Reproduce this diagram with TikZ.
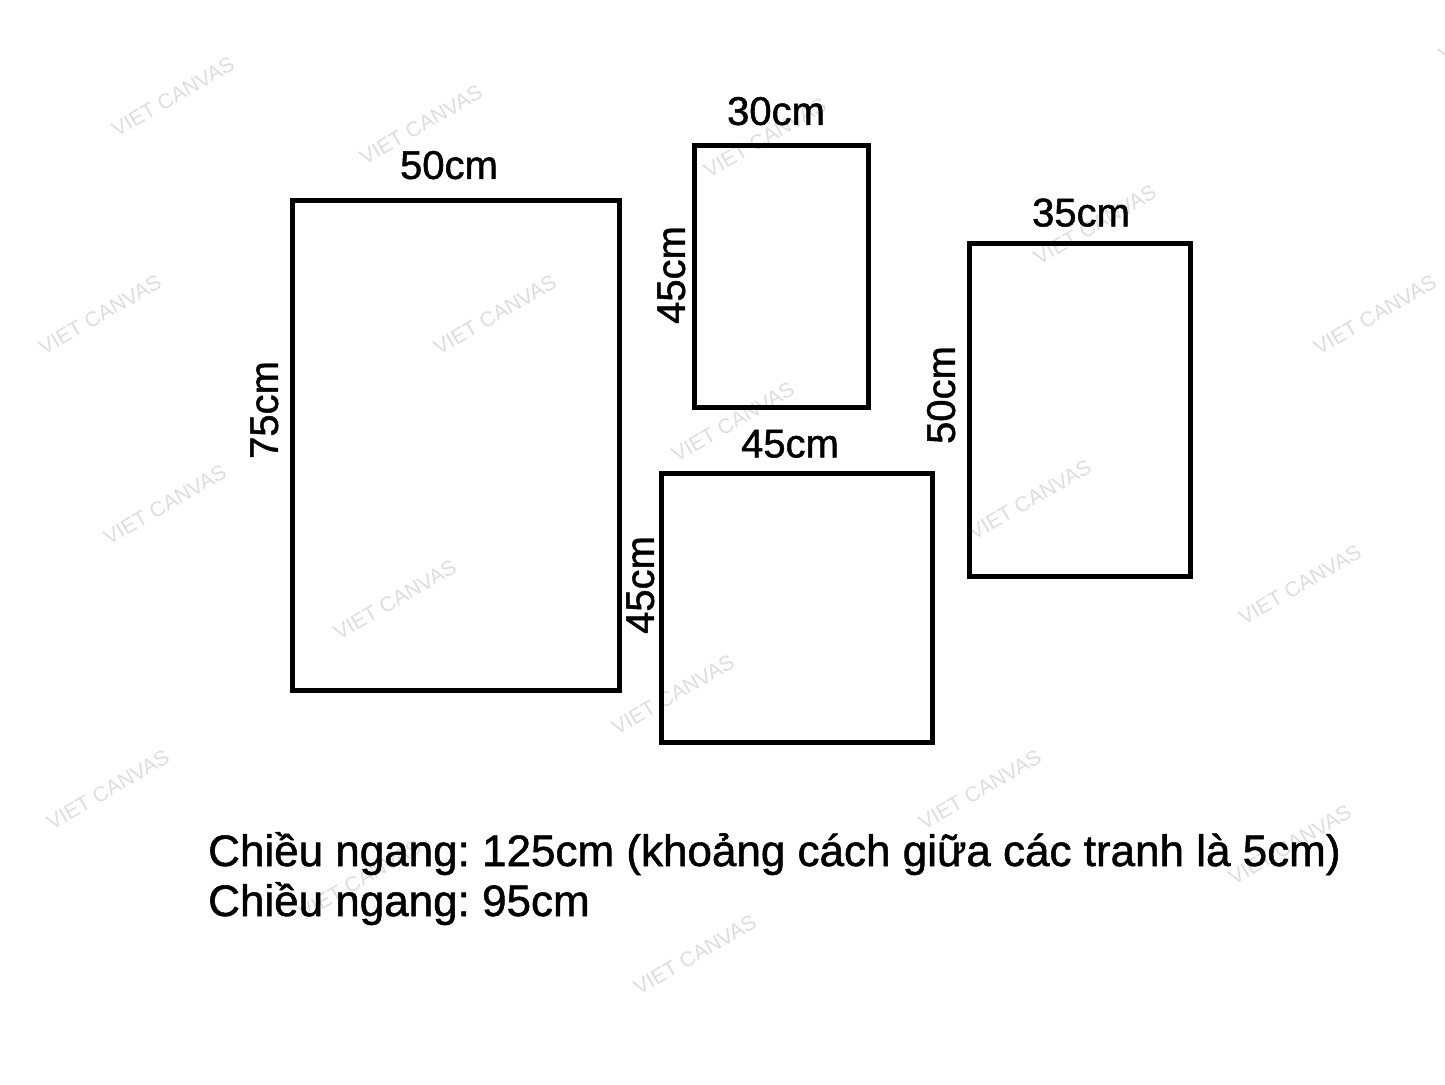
\documentclass[tikz,border=0pt]{standalone}
\usepackage{fontspec}
\setmainfont{Liberation Sans}
\newfontfamily\heavyfont{Liberation Sans}[FakeBold=1.2]
\frenchspacing
\usetikzlibrary{positioning}
\tikzset{
  frame/.style = {draw, line width=5pt, inner sep=0pt},
  size label/.style = {inner sep=0pt, font=\heavyfont\fontsize{40}{48}\selectfont},
  side label/.style = {size label, rotate=90, anchor=south},
  note/.style = {inner sep=0pt, anchor=base west, font=\heavyfont\fontsize{44}{50}\selectfont},
  watermark/.style = {text=black!13, rotate=30, inner sep=0pt,
                      font=\fontsize{21}{24}\selectfont},
}
\begin{document}
\begin{tikzpicture}[x=1pt, y=-1pt]
    %% Fix the page to the size of the reference
    \useasboundingbox [fill=white] (0,0) rectangle (1445,1084);
    \clip (0,0) rectangle (1445,1084);

    %% The watermarks go underneath everything else
    \foreach \wx/\wy [count=\w] in {173/97, 421/125, 765/138, 1095/225, 1500/22,
        100/315, 495/315, 1375/315, 733/422, 1030/500, 165/505, 395/600,
        1300/585, 673/695, 108/790, 980/790, 1290/845, 360/880, 695/955}{%
      \node [watermark] (mark\w) at (\wx,\wy) {VIET CANVAS};
    }

    %% The four frames
    \node [frame, minimum width=327pt, minimum height=490pt] (big) at (456,445.5) {};
    \node [frame, minimum width=174pt, minimum height=262pt] (small) at (781.5,276.5) {};
    \node [frame, minimum width=271pt, minimum height=269pt] (square) at (797,608) {};
    \node [frame, minimum width=221pt, minimum height=333pt] (tall) at (1080,410) {};

    %% Widths above the frames
    \node [size label, above=18.5pt of big.north, xshift=-7pt] (big_w) {50cm};
    \node [size label, above=17.5pt of small.north, xshift=-5.5pt] (small_w) {30cm};
    \node [size label, above=13pt of square.north, xshift=-7pt] (square_w) {45cm};
    \node [size label, above=14pt of tall.north, xshift=1pt] (tall_w) {35cm};

    %% Heights along the left sides
    \node [side label] (big_h) at ([xshift=-11.5pt, yshift=35.5pt] big.west) {75cm};
    \node [side label] (small_h) at ([xshift=-6.5pt, yshift=1.5pt] small.west) {45cm};
    \node [side label] (square_h) at ([xshift=-4.5pt, yshift=23pt] square.west) {45cm};
    \node [side label] (tall_h) at ([xshift=-11.5pt, yshift=15pt] tall.west) {50cm};

    %% Overall sizes
    \node [note] (note1) at (208,866)
      {Chiều ngang: 125cm (khoảng cách giữa các tranh là 5cm)};
    \node [note] (note2) at ([yshift=-50pt] note1.base west) {Chiều ngang: 95cm};
\end{tikzpicture}
\end{document}
